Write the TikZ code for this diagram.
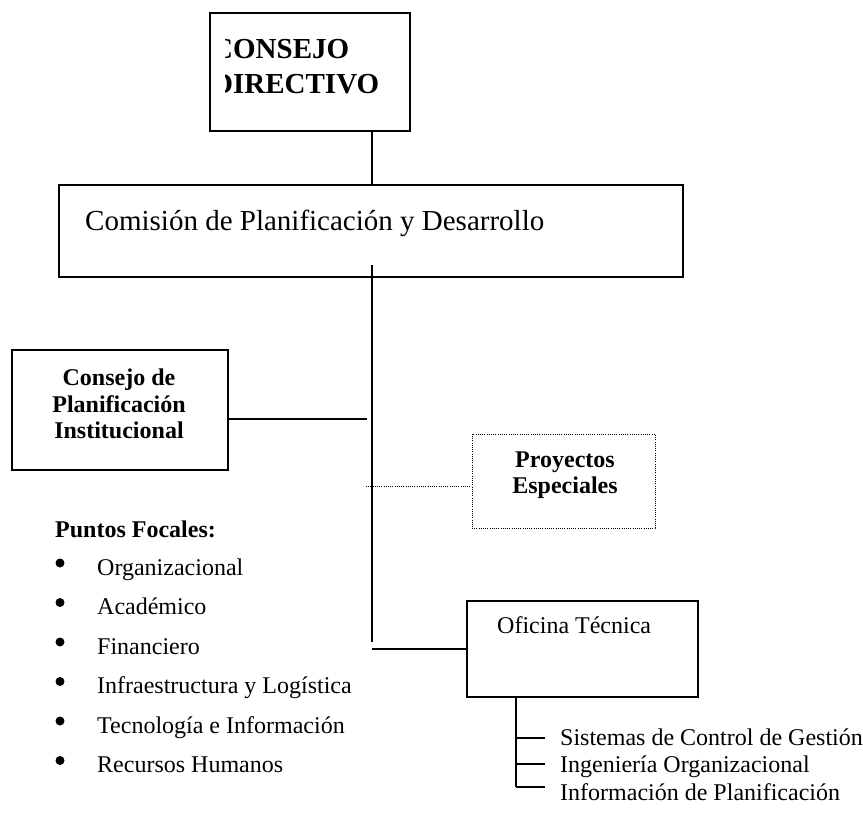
\documentclass[tikz,border=0pt]{standalone}
\usepackage{fontspec}
\setmainfont{Liberation Serif}
\begin{document}
\begin{tikzpicture}[x=1pt,y=-1pt,
  box/.style={draw, line width=1.6pt, inner sep=0pt},
  dotbox/.style={draw, line width=1pt, dash pattern=on 1pt off 1.2pt, inner sep=0pt},
  conn/.style={line width=1.6pt},
  dotconn/.style={line width=1pt, dash pattern=on 1pt off 1.2pt},
  big/.style={font=\fontsize{29}{33}\selectfont, inner sep=0pt, anchor=base west},
  bigb/.style={font=\bfseries\fontsize{29}{33}\selectfont, inner sep=0pt, anchor=base west},
  txt/.style={font=\fontsize{24}{27}\selectfont, inner sep=0pt, anchor=base west},
  txtb/.style={font=\bfseries\fontsize{24}{27}\selectfont, inner sep=0pt, anchor=base},
  blt/.style={circle, fill, inner sep=0pt, minimum size=9pt}
]
\useasboundingbox[fill=white] (0,0) rectangle (863,838);

% Consejo Directivo
\node[box, minimum width=200pt, minimum height=118pt] (cd) at (310,72) {};
\begin{scope}
  \clip (225,10) rectangle (412,134);
  \node[bigb] (cd1) at (212,58) {CONSEJO};
  \node[bigb] (cd2) at (212,93) {DIRECTIVO};
\end{scope}

% Comision
\node[box, minimum width=624pt, minimum height=92pt] (cpd) at (371,231) {};
\node[big] (cpdt) at (85,230) {Comisión de Planificación y Desarrollo};

% spine coordinates
\coordinate (spA) at (372,265);
\coordinate (spB) at (372,642);
\coordinate (spC) at (372,649);
\coordinate (spX) at (372,0);

\draw[conn] (cd.south -| spX) -- ([yshift=-2pt]cpd.north -| spX);
\draw[conn] (spA) -- (spB);

% Consejo de Planificacion Institucional
\node[box, minimum width=216pt, minimum height=120pt] (cpi) at (120,410) {};
\node[txtb] (cpi1) at (119,385) {Consejo de};
\node[txtb] (cpi2) at (119,412) {Planificación};
\node[txtb] (cpi3) at (119,438) {Institucional};
\coordinate (cpiE) at (367,419);
\draw[conn] (cpi.east |- cpiE) -- (cpiE);

% Proyectos Especiales
\node[dotbox, minimum width=183pt, minimum height=94pt] (pe) at (563.5,481) {};
\node[txtb] (pe1) at (565,467) {Proyectos};
\node[txtb] (pe2) at (565,493) {Especiales};
\coordinate (peW) at (366,486);
\draw[dotconn] (peW) -- (pe.west |- peW);

% Puntos Focales
\node[txtb, anchor=base west] (pf) at (55,537) {Puntos Focales:};
\foreach \t [count=\i] in {Organizacional,Académico,Financiero,Infraestructura y Logística,Tecnología e Información,Recursos Humanos}{
  \pgfmathsetmacro{\yy}{575+39.5*(\i-1)}
  \node[blt] (b\i) at (60,\yy-12) {};
  \node[txt] (pt\i) at (97,\yy) {\t};
}

% Oficina Tecnica
\node[box, minimum width=231pt, minimum height=96pt] (ot) at (582.5,649) {};
\node[txt] (ott) at (497,633) {Oficina Técnica};
\draw[conn] (spC) -- (ot.west |- spC);

% sub items
\coordinate (s1) at (516,738);
\coordinate (s2) at (516,764);
\coordinate (s3) at (516,787);
\draw[conn] (ot.south -| s1) -- (s3);
\foreach \k in {1,2,3}{ \draw[conn] (s\k) -- ++(29,0); }
\node[txt] (o1) at (560,745) {Sistemas de Control de Gestión};
\node[txt] (o2) at (560,772.6) {Ingeniería Organizacional};
\node[txt] (o3) at (560,800.2) {Información de Planificación};
\end{tikzpicture}
\end{document}
